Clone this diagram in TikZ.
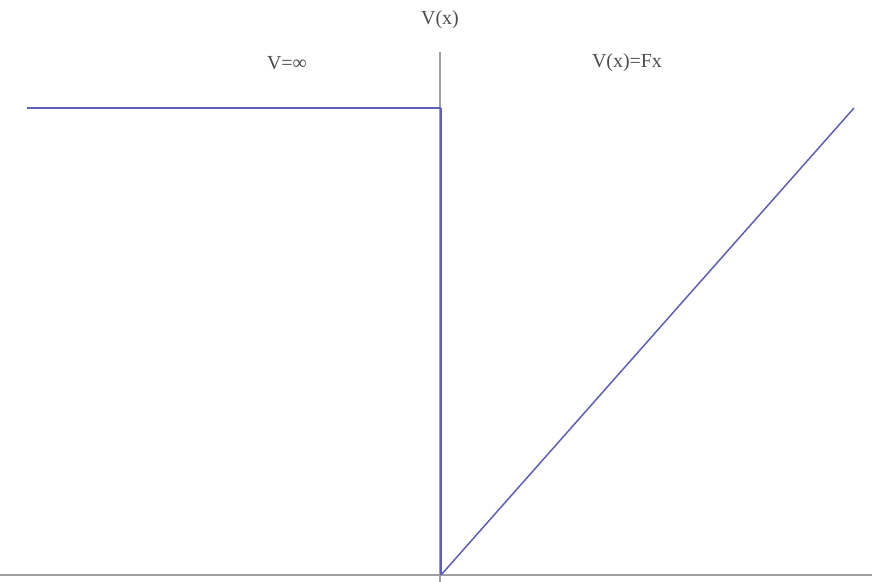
\documentclass[tikz,border=0pt]{standalone}
\usepackage{fontspec}
\setmainfont{Liberation Serif}
\definecolor{potblue}{RGB}{95,95,185}
\begin{document}
\begin{tikzpicture}[x=1bp,y=-1bp,
  axis/.style={draw=gray!75, line width=1.2bp},
  curve/.style={draw=potblue, line width=1.5bp, line join=miter},
  lbl/.style={text=black!70, font=\fontsize{20}{22}\selectfont, inner sep=0pt}]
\useasboundingbox (0,0) rectangle (894,582);
\coordinate (xl) at (0,575);
\coordinate (xr) at (872,575);
\coordinate (yt) at (440,52);
\coordinate (yb) at (440,582);
\draw[axis] (xl) -- (xr);
\draw[axis] (yt) -- (yb);
\coordinate (a) at (27,108);
\coordinate (b) at (441,108);
\coordinate (o) at (441,575);
\coordinate (c) at (854,108);
\draw[curve] (a) -- (b);
\draw[curve, line width=2.2bp] (b) -- (o);
\draw[curve] (o) -- (c);
\node[lbl] (vx) at (440,20) {V(x)};
\node[lbl] (vinf) at (287,63) {V=∞};
\node[lbl] (vfx) at (627,63) {V(x)=Fx};
\end{tikzpicture}
\end{document}
